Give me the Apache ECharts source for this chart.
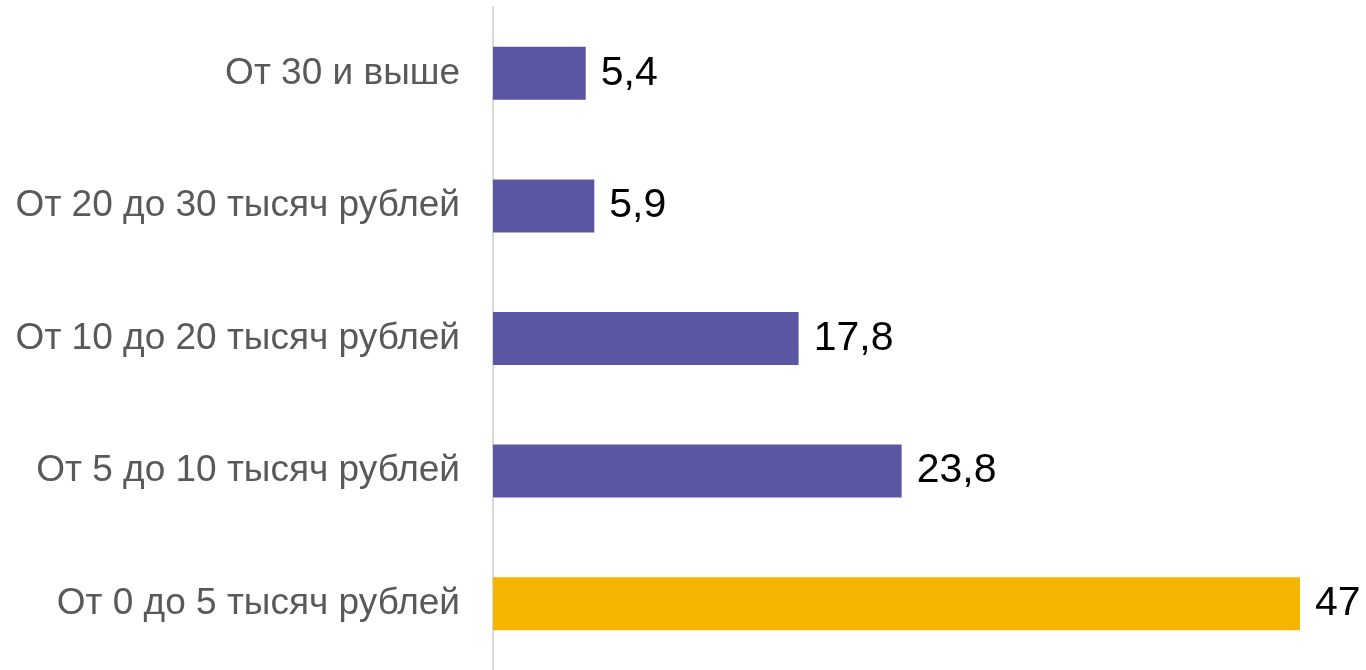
<!DOCTYPE html>
<html>
<head>
<meta charset="utf-8">
<script src="https://cdn.jsdelivr.net/npm/echarts@6/dist/echarts.min.js"></script>
<style>
  html, body { margin: 0; padding: 0; background: #fff; }
  #main { width: 1366px; height: 670px; }
</style>
</head>
<body>
<div id="main"></div>
<script>
var categories = ['От 0 до 5 тысяч рублей', 'От 5 до 10 тысяч рублей', 'От 10 до 20 тысяч рублей', 'От 20 до 30 тысяч рублей', 'От 30 и выше'];
var values = [47, 23.8, 17.8, 5.9, 5.4];
var barColors = ['#f4b400', '#5a56a4', '#5a56a4', '#5a56a4', '#5a56a4'];

var myChart = echarts.init(document.getElementById('main'));
var option = {
  animation: false,
  grid: { left: 493, right: 66, top: 7, height: 665 },
  xAxis: {
    type: 'value',
    min: 0,
    max: 47,
    show: false
  },
  yAxis: {
    type: 'category',
    data: categories,
    axisLine: { show: true, lineStyle: { color: '#d9d9d9', width: 2 } },
    axisTick: { show: false },
    axisLabel: {
      margin: 33,
      color: '#595959',
      fontSize: 37,
      fontFamily: 'Liberation Sans, Arial, sans-serif'
    }
  },
  series: [{
    type: 'bar',
    barWidth: 53,
    data: values.map(function (v, i) {
      return { value: v, itemStyle: { color: barColors[i] } };
    }),
    label: {
      show: true,
      position: 'right',
      distance: 15,
      color: '#000',
      fontSize: 41,
      fontFamily: 'Liberation Sans, Arial, sans-serif',
      formatter: function (p) {
        return String(p.value).replace('.', ',');
      }
    }
  }]
};
myChart.setOption(option);
</script>
</body>
</html>
